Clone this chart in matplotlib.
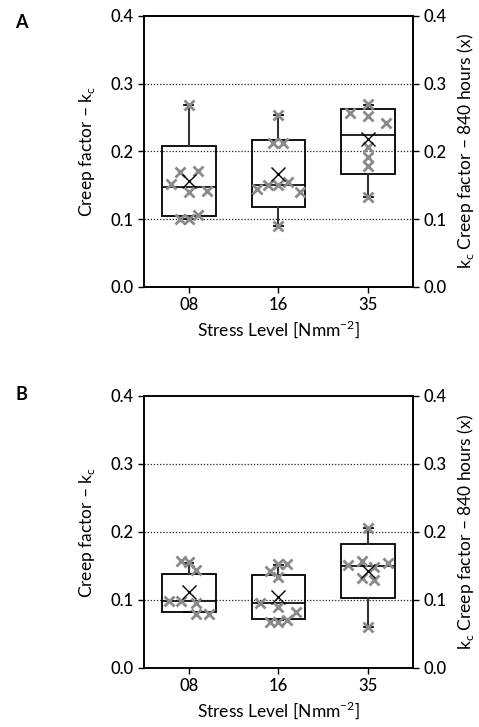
import numpy as np
import matplotlib
matplotlib.use('Agg')
import matplotlib.pyplot as plt

plt.rcParams['font.family'] = ['Lato', 'DejaVu Sans']
plt.rcParams['font.weight'] = 'medium'
plt.rcParams['font.size'] = 12
plt.rcParams['mathtext.fontset'] = 'custom'
plt.rcParams['mathtext.rm'] = 'Lato:medium'

#Data
categories = ['08', '16', '35']

a_whislo = [0.100, 0.089, 0.132]
a_q1 = [0.105, 0.118, 0.167]
a_med = [0.148, 0.151, 0.224]
a_q3 = [0.208, 0.217, 0.263]
a_whishi = [0.268, 0.253, 0.269]
a_mean = [0.156, 0.167, 0.218]

b_whislo = [0.082, 0.070, 0.060]
b_q1 = [0.083, 0.0725, 0.1025]
b_med = [0.099, 0.095, 0.150]
b_q3 = [0.138, 0.136, 0.183]
b_whishi = [0.155, 0.152, 0.206]
b_mean = [0.111, 0.104, 0.142]

a08_pts = [0.268, 0.169, 0.171, 0.152, 0.140, 0.142, 0.100, 0.100, 0.106]
a08_off = [0, -0.1, 0.1, -0.2, 0, 0.2, -0.1, 0, 0.1]
a16_pts = [0.253, 0.212, 0.213, 0.145, 0.150, 0.150, 0.154, 0.140, 0.089]
a16_off = [0, -0.06, 0.05, -0.24, -0.12, 0, 0.11, 0.24, 0]
a35_pts = [0.270, 0.256, 0.252, 0.242, 0.207, 0.191, 0.179, 0.132]
a35_off = [0, -0.2, 0, 0.2, 0, 0, 0, 0]

b08_pts = [0.157, 0.156, 0.144, 0.099, 0.099, 0.095, 0.080, 0.080]
b08_off = [-0.09, 0, 0.08, -0.22, -0.09, 0.08, 0.08, 0.22]
b16_pts = [0.142, 0.153, 0.153, 0.134, 0.095, 0.090, 0.083, 0.068, 0.068, 0.071]
b16_off = [-0.1, 0, 0.1, 0, -0.21, 0, 0.2, -0.1, 0, 0.1]
b35_pts = [0.206, 0.151, 0.158, 0.149, 0.154, 0.132, 0.129, 0.060]
b35_off = [0, -0.22, -0.07, 0.07, 0.22, -0.07, 0.07, 0]


def draw_panel(ax, whislo, q1, med, q3, whishi, mean, pts, offs):
    stats = []
    for i in range(3):
        stats.append(dict(whislo=whislo[i], q1=q1[i], med=med[i], q3=q3[i],
                          whishi=whishi[i], fliers=[]))
    pos = np.arange(1, 4)
    for y in [0.1, 0.2, 0.3]:
        ax.axhline(y, color='#222222', ls=(0, (1, 1.5)), lw=0.9, zorder=1)
    ax.bxp(stats, positions=pos, widths=0.6, capwidths=0.1, showfliers=False,
           patch_artist=True,
           boxprops=dict(facecolor='none', edgecolor='black', lw=1.3),
           medianprops=dict(color='black', lw=1.2),
           whiskerprops=dict(color='#333333', lw=1.5),
           capprops=dict(color='black', lw=1.3), zorder=2)
    for i in range(3):
        ax.plot(pos[i] + np.array(offs[i]), pts[i], ls='none', marker='x',
                color='#8a8a8a', ms=7, mew=2, zorder=3)
    ax.plot(pos, mean, ls='none', marker='x', color='black', ms=10, mew=1,
            zorder=4)

    ax.set_xlim(0.5, 3.5)
    ax.set_ylim(0, 0.4)
    ax.set_yticks([0.0, 0.1, 0.2, 0.3, 0.4])
    ax.set_yticklabels(['0.0', '0.1', '0.2', '0.3', '0.4'])
    ax.set_xticks(pos)
    ax.set_xticklabels(categories)
    ax.tick_params(direction='out', length=4, width=1, labelsize=12)
    for s in ax.spines.values():
        s.set_linewidth(1.2)
    ax.set_ylabel('Creep factor – k$_\\mathregular{c}$', fontsize=12.5, labelpad=10)
    ax.set_xlabel('Stress Level [Nmm$^\\mathregular{-2}$]', fontsize=12.5, labelpad=4)

    ax2 = ax.twinx()
    ax2.set_ylim(0, 0.4)
    ax2.set_yticks([0.0, 0.1, 0.2, 0.3, 0.4])
    ax2.set_yticklabels(['0.0', '0.1', '0.2', '0.3', '0.4'])
    ax2.tick_params(direction='out', length=4, width=1, labelsize=12)
    for s in ax2.spines.values():
        s.set_linewidth(1.2)
    ax2.set_ylabel('k$_\\mathregular{c}$ Creep factor – 840 hours (x)', fontsize=12.5,
                   labelpad=6)
    return ax2


fig = plt.figure(figsize=(4.79, 7.27), dpi=100)
axA = fig.add_axes([0.3006, 0.6056, 0.5616, 0.3724])
axB = fig.add_axes([0.3006, 0.0812, 0.5616, 0.3741])

draw_panel(axA, a_whislo, a_q1, a_med, a_q3, a_whishi, a_mean,
           [a08_pts, a16_pts, a35_pts], [a08_off, a16_off, a35_off])
draw_panel(axB, b_whislo, b_q1, b_med, b_q3, b_whishi, b_mean,
           [b08_pts, b16_pts, b35_pts], [b08_off, b16_off, b35_off])

fig.text(21/479, 1 - 22/727, 'A', fontsize=13, fontweight='bold',
         ha='center', va='center')
fig.text(21/479, 1 - 394/727, 'B', fontsize=13, fontweight='bold',
         ha='center', va='center')

fig.savefig('out.png', dpi=100)
